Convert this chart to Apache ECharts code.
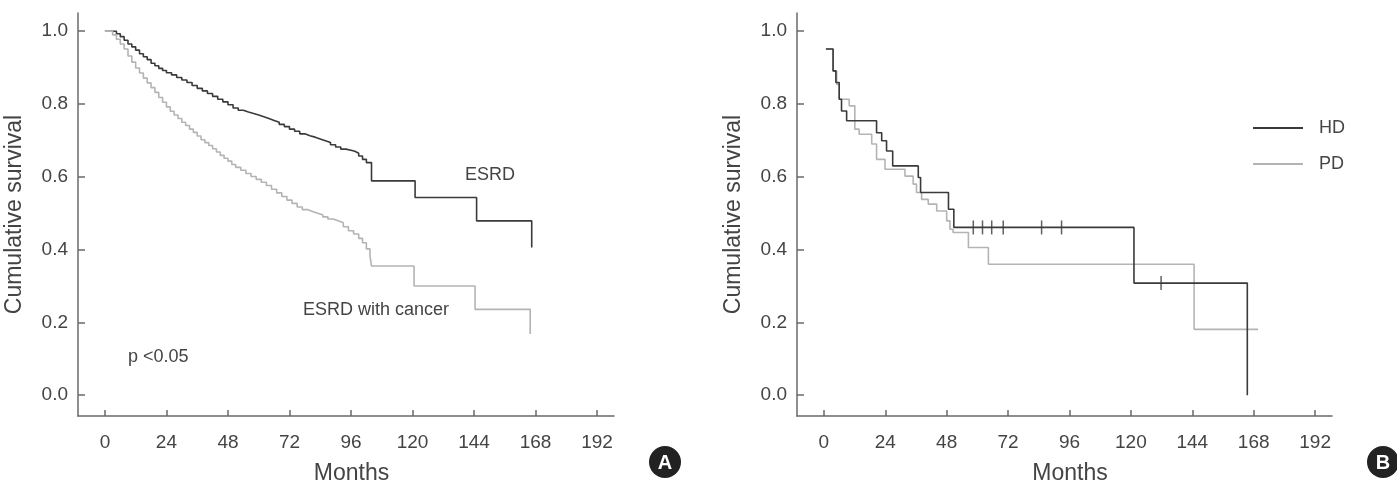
<!DOCTYPE html>
<html>
<head>
<meta charset="utf-8">
<script src="https://cdn.jsdelivr.net/npm/echarts@6/dist/echarts.min.js"></script>
<style>
  html, body { margin: 0; padding: 0; background: #fff; }
  #main { width: 1397px; height: 488px; }
</style>
</head>
<body>
<div id="main"></div>
<script>
// tick labels
const xTicks = [0, 24, 48, 72, 96, 120, 144, 168, 192];
const yTicks = [0, 0.2, 0.4, 0.6, 0.8, 1.0];

// panel A: ESRD
const esrdMonths = [0, 4.5, 6, 7.5, 9, 10.5, 12, 13.5, 15, 16.5, 18, 19.5, 21, 22.5, 24, 26, 28, 30, 32, 34, 36, 38, 40, 42, 44, 46, 48, 50, 52, 54, 56, 58, 60, 62, 64, 66, 68, 70, 72, 74, 76, 78, 80, 82, 84, 86, 88, 90, 92, 94, 96, 97.5, 99, 100.5, 102, 104, 121, 145, 166.5];
const esrdSurv = [1.0, 0.993, 0.985, 0.975, 0.965, 0.957, 0.948, 0.938, 0.930, 0.922, 0.912, 0.905, 0.898, 0.892, 0.886, 0.880, 0.873, 0.866, 0.859, 0.851, 0.843, 0.836, 0.829, 0.821, 0.813, 0.806, 0.798, 0.789, 0.783, 0.778, 0.774, 0.770, 0.765, 0.760, 0.755, 0.750, 0.744, 0.738, 0.731, 0.725, 0.718, 0.713, 0.709, 0.704, 0.699, 0.694, 0.688, 0.682, 0.676, 0.673, 0.670, 0.665, 0.657, 0.648, 0.639, 0.589, 0.543, 0.479, 0.406];

// panel A: ESRD with cancer
const cancerMonths = [0, 3, 4.5, 6, 7.5, 9, 10.5, 12, 13.5, 15, 16.5, 18, 19.5, 21, 22.5, 24, 25.5, 27, 28.5, 30, 31.5, 33, 34.5, 36, 37.5, 39, 40.5, 42, 43.5, 45, 46.5, 48, 49.5, 51, 53, 55, 57, 59, 61, 63, 65, 67, 69, 71, 73, 75, 77, 79, 81, 83, 85, 87, 89, 91, 93, 95, 97, 99, 100.5, 102, 103.4, 104, 120.6, 144.4, 165.9];
const cancerSurv = [1.0, 0.990, 0.978, 0.965, 0.951, 0.932, 0.915, 0.899, 0.885, 0.871, 0.858, 0.845, 0.832, 0.818, 0.805, 0.792, 0.780, 0.770, 0.760, 0.750, 0.741, 0.731, 0.722, 0.712, 0.702, 0.694, 0.686, 0.677, 0.668, 0.659, 0.651, 0.643, 0.634, 0.626, 0.618, 0.609, 0.601, 0.593, 0.585, 0.576, 0.566, 0.556, 0.546, 0.536, 0.527, 0.517, 0.510, 0.505, 0.500, 0.496, 0.490, 0.484, 0.479, 0.474, 0.463, 0.452, 0.443, 0.431, 0.419, 0.402, 0.383, 0.355, 0.300, 0.236, 0.168];

// panel B: HD / PD
const hdMonths = [0.8, 3.6, 4.7, 6.0, 6.9, 8.9, 20.6, 22.6, 24.5, 26.9, 36.9, 37.8, 48.7, 50.8, 121.2, 165.5];
const hdSurv = [0.951, 0.891, 0.859, 0.813, 0.781, 0.754, 0.721, 0.699, 0.671, 0.630, 0.598, 0.557, 0.511, 0.461, 0.308, 0.0];
const hdCensorMonths = [58.4, 62.0, 65.6, 70.1, 85.1, 92.9, 131.8];
const hdCensorSurv = [0.461, 0.461, 0.461, 0.461, 0.461, 0.461, 0.308];

const pdMonths = [0.8, 3.6, 5.0, 6.0, 9.9, 12.1, 13.8, 18.7, 20.6, 23.9, 31.7, 34.9, 36.2, 38.2, 40.8, 44.1, 48.0, 49.3, 50.5, 56.5, 64.3, 144.7, 169.7];
const pdSurv = [0.951, 0.891, 0.854, 0.813, 0.795, 0.731, 0.717, 0.690, 0.648, 0.621, 0.602, 0.580, 0.557, 0.538, 0.525, 0.506, 0.479, 0.456, 0.447, 0.406, 0.360, 0.181, 0.181];

const zip = (a, b) => a.map((v, i) => [v, b[i]]);

const FONT = 'Liberation Sans, Arial, sans-serif';
const DARK = '#3a3a3a';
const LIGHT = '#b4b4b4';
const AXIS = '#6a6a6a';
const TEXT = '#444';

function xAx(gi) {
  return {
    type: 'value', gridIndex: gi, min: -10.5, max: 198.6,
    axisLine: { show: true, onZero: false, lineStyle: { color: AXIS, width: 1.5 } },
    axisTick: { show: true, inside: true, length: 6, customValues: xTicks, lineStyle: { color: AXIS, width: 1.5 } },
    axisLabel: { customValues: xTicks, fontSize: 19, color: TEXT, fontFamily: FONT, margin: 17 },
    splitLine: { show: false },
    name: 'Months', nameLocation: 'middle', nameGap: 46,
    nameTextStyle: { fontSize: 23, color: TEXT, fontFamily: FONT, padding: [0, 0, 0, 11] }
  };
}
function yAx(gi) {
  return {
    type: 'value', gridIndex: gi, min: -0.057, max: 1.05,
    axisLine: { show: true, onZero: false, lineStyle: { color: AXIS, width: 1.5 } },
    axisTick: { show: true, inside: true, length: 7, customValues: yTicks, lineStyle: { color: AXIS, width: 1.5 } },
    axisLabel: { customValues: yTicks, fontSize: 19, color: TEXT, fontFamily: FONT, margin: 10,
      formatter: v => v.toFixed(1) },
    splitLine: { show: false },
    name: 'Cumulative survival', nameLocation: 'middle', nameGap: 52,
    nameTextStyle: { fontSize: 23, color: TEXT, fontFamily: FONT }
  };
}
function km(name, data, color, xi) {
  return {
    name, type: 'line', step: 'end', xAxisIndex: xi, yAxisIndex: xi,
    data, showSymbol: false, symbol: 'none',
    lineStyle: { color, width: 1.6 }, itemStyle: { color }
  };
}

const chart = echarts.init(document.getElementById('main'));
chart.setOption({
  animation: false,
  grid: [
    { left: 78, top: 13, width: 536, height: 403, outerBoundsMode: 'none' },
    { left: 797, top: 13, width: 535, height: 403, outerBoundsMode: 'none' }
  ],
  xAxis: [xAx(0), xAx(1)],
  yAxis: [yAx(0), yAx(1)],
  legend: {
    data: ['HD', 'PD'], orient: 'vertical', left: 1248, top: 114,
    icon: 'rect', itemWidth: 50, itemHeight: 2, itemGap: 18,
    textStyle: { fontSize: 18, color: TEXT, fontFamily: FONT, padding: [0, 0, 0, 11] }
  },
  series: [
    km('ESRD', zip(esrdMonths, esrdSurv), DARK, 0),
    km('ESRD with cancer', zip(cancerMonths, cancerSurv), LIGHT, 0),
    km('PD', zip(pdMonths, pdSurv), LIGHT, 1),
    km('HD', zip(hdMonths, hdSurv), DARK, 1),
    {
      name: 'HD censored', type: 'scatter', xAxisIndex: 1, yAxisIndex: 1,
      data: zip(hdCensorMonths, hdCensorSurv),
      symbol: 'rect', symbolSize: [1.5, 14], itemStyle: { color: DARK }
    }
  ],
  graphic: [
    { type: 'text', x: 465, y: 175, style: { text: 'ESRD', fontSize: 18, fontFamily: FONT, fill: TEXT, verticalAlign: 'middle' } },
    { type: 'text', x: 303, y: 310, style: { text: 'ESRD with cancer', fontSize: 18, fontFamily: FONT, fill: TEXT, verticalAlign: 'middle' } },
    { type: 'text', x: 128, y: 357, style: { text: 'p <0.05', fontSize: 18, fontFamily: FONT, fill: TEXT, verticalAlign: 'middle' } },
    { type: 'circle', shape: { cx: 665, cy: 462, r: 16 }, style: { fill: '#222' } },
    { type: 'text', x: 665, y: 463, style: { text: 'A', fontSize: 20, fontWeight: 'bold', fontFamily: FONT, fill: '#fff', align: 'center', verticalAlign: 'middle' } },
    { type: 'circle', shape: { cx: 1383, cy: 462, r: 16 }, style: { fill: '#222' } },
    { type: 'text', x: 1383, y: 463, style: { text: 'B', fontSize: 20, fontWeight: 'bold', fontFamily: FONT, fill: '#fff', align: 'center', verticalAlign: 'middle' } }
  ]
});
</script>
</body>
</html>
